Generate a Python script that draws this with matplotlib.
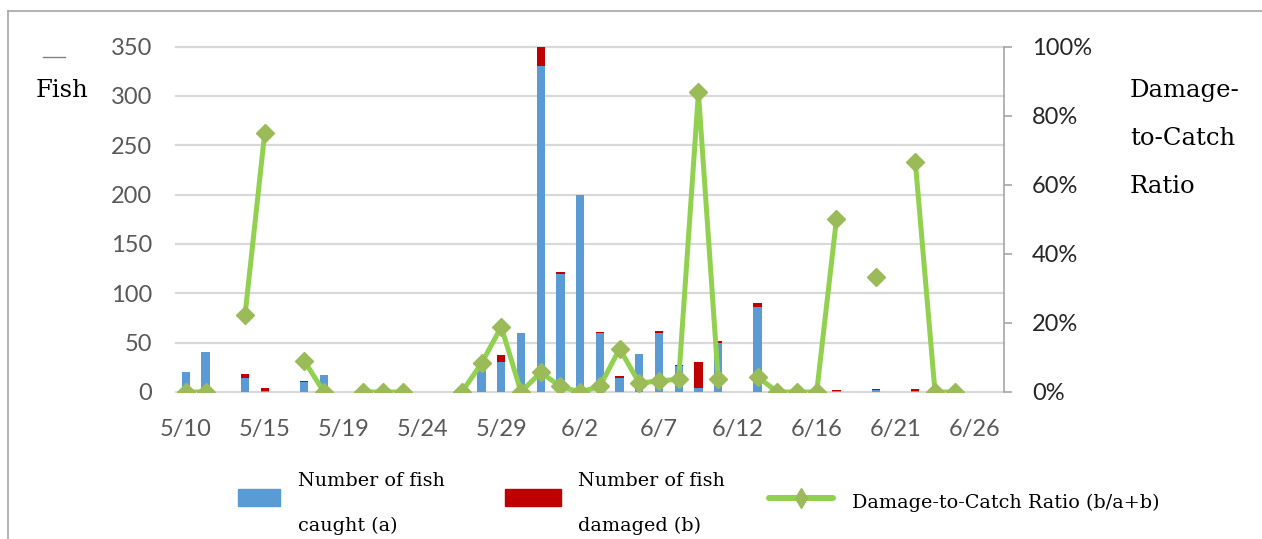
import numpy as np
import matplotlib
matplotlib.use("Agg")
import matplotlib.pyplot as plt
from matplotlib.lines import Line2D
from matplotlib.patches import Rectangle
from matplotlib.ticker import FuncFormatter

BLUE = "#5B9BD5"
RED = "#C00000"
LINE_GREEN = "#92D050"
MARKER_GREEN = "#9BBB59"
GRID = "#D9D9D9"
FRAME = "#A6A6A6"
TICK_GREY = "#595959"
SERIF = "DejaVu Serif"

# survey days (one category per day fished)
dates = [
    "5/10", "5/11", "5/12", "5/13", "5/15", "5/16", "5/17", "5/18",
    "5/19", "5/20", "5/21", "5/22", "5/24", "5/25", "5/26", "5/27",
    "5/29", "5/30", "5/31", "6/1", "6/2", "6/3", "6/4", "6/5",
    "6/7", "6/8", "6/9", "6/10", "6/12", "6/13", "6/14", "6/15",
    "6/16", "6/17", "6/18", "6/19", "6/21", "6/22", "6/23", "6/24",
    "6/26", "6/27",
]
caught = [
    20, 41, 0, 14, 1, 0, 10, 17, 0, 0, 0, 0, 0, 0, 0, 22,
    30, 60, 330, 120, 200, 60, 14, 38, 60, 26, 4, 50, 0, 86, 0, 0,
    0, 1, 0, 2, 0, 1, 0, 0, 0, 0,
]
damaged = [
    0, 0, 0, 4, 3, 0, 1, 0, 0, 0, 0, 0, 0, 0, 0, 2,
    7, 0, 20, 2, 0, 1, 2, 1, 2, 1, 26, 2, 0, 4, 0, 0,
    0, 1, 0, 1, 0, 2, 0, 0, 0, 0,
]
# damage-to-catch ratio in %, None where nothing was recorded
ratio_pct = [
    0, 0, None, 22.2, 75, None, 9.1, 0, None, 0, 0, 0, None, None, 0, 8.3,
    18.9, 0, 5.7, 1.6, 0, 1.6, 12.5, 2.6, 3.2, 3.7, 86.7, 3.8, None, 4.4, 0, 0,
    0, 50, None, 33.3, None, 66.7, 0, 0, None, None,
]
fish_ticks = [0, 50, 100, 150, 200, 250, 300, 350]
pct_ticks = [0, 20, 40, 60, 80, 100]

plt.rcParams["font.family"] = ["Lato", "DejaVu Sans"]

W, H = 1262, 539
fig = plt.figure(figsize=(W / 100, H / 100), dpi=100)
px = 72 / 100  # points per pixel

x = np.arange(len(dates))
a = np.array(caught, dtype=float)
b = np.array(damaged, dtype=float)
r = np.array([np.nan if v is None else v for v in ratio_pct], dtype=float)

ax = fig.add_axes([176 / W, 1 - 392 / H, (1004 - 176) / W, (392 - 46.5) / H])
ax.bar(x, a, width=0.42, color=BLUE, zorder=2)
ax.bar(x, b, bottom=a, width=0.42, color=RED, zorder=2)
ax.set_xlim(-0.5, len(dates) - 0.5)
ax.set_ylim(0, 350)
ax.set_yticks(fish_ticks)
ax.set_xticks(x[::4])
ax.set_xticklabels(dates[::4])
ax.grid(axis="y", color=GRID, linewidth=1.6)
for gl in ax.get_ygridlines():
    gl.set_clip_on(False)
ax.set_axisbelow(True)
for s in ax.spines.values():
    s.set_visible(False)
ax.tick_params(axis="y", length=0, pad=24 * px, labelsize=17, labelcolor=TICK_GREY)
ax.tick_params(axis="x", length=0, pad=27 * px, labelsize=17, labelcolor=TICK_GREY)

ax2 = ax.twinx()
ax2.plot(x, r, color=LINE_GREEN, linewidth=5 * px, marker="D", markersize=8.7,
         markerfacecolor=MARKER_GREEN, markeredgecolor=MARKER_GREEN, zorder=3)
ax2.set_ylim(0, 100)
ax2.set_yticks(pct_ticks)
ax2.yaxis.set_major_formatter(FuncFormatter(lambda v, _: f"{v:.0f}%"))
for name, s in ax2.spines.items():
    s.set_visible(name == "right")
ax2.spines["right"].set_color(FRAME)
ax2.spines["right"].set_linewidth(1.2)
ax2.tick_params(axis="y", direction="out", length=8 * px, width=1.2, color=FRAME,
                pad=20 * px, labelsize=17, labelcolor="#262626")

# axis titles
fig.add_artist(Line2D([43 / W, 65 / W], [1 - 57 / H] * 2, color="#808080", linewidth=1))
fig.text(62 / W, 1 - 96.5 / H, "Fish", family=SERIF, fontsize=17.5,
         ha="center", va="baseline")
for line, base in zip(["Damage-", "to-Catch", "Ratio"], [96.7, 145, 192.7]):
    fig.text(1130 / W, 1 - base / H, line, family=SERIF, fontsize=17.5,
             ha="left", va="baseline")

# legend
fig.add_artist(Rectangle((238 / W, 1 - 506 / H), 42 / W, 17 / H, color=BLUE))
fig.add_artist(Rectangle((505 / W, 1 - 506 / H), 56 / W, 17 / H, color=RED))
fig.add_artist(Line2D([769 / W, 833 / W], [1 - 497.7 / H] * 2, color=LINE_GREEN,
                      linewidth=6 * px, solid_capstyle="round"))
fig.add_artist(Line2D([801 / W], [1 - 497.7 / H], marker="d", markersize=9.7,
                      color=MARKER_GREEN, linestyle="none"))
legend_text = [
    (298, 486, "Number of fish"), (298, 531, "caught (a)"),
    (578, 486, "Number of fish"), (578, 531, "damaged (b)"),
    (852, 508, "Damage-to-Catch Ratio (b/a+b)"),
]
for lx, ly, t in legend_text:
    fig.text(lx / W, 1 - ly / H, t, family=SERIF, fontsize=13.8,
             ha="left", va="baseline")

# chart frame (top and left edges)
fig.add_artist(Line2D([8 / W, 1], [1 - 11 / H] * 2, color=FRAME, linewidth=1.2))
fig.add_artist(Line2D([8 / W] * 2, [1 - 11 / H, 0], color=FRAME, linewidth=1.2))

fig.savefig("out.png", dpi=100, facecolor="white")
